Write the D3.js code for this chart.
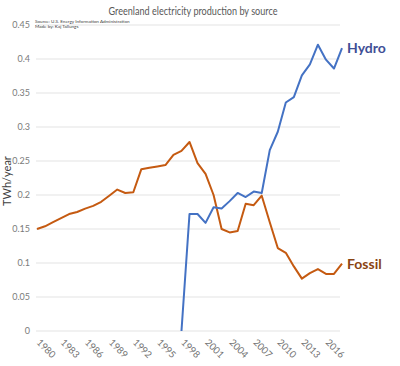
<!DOCTYPE html>
<html><head><meta charset="utf-8">
<script src="https://cdn.jsdelivr.net/npm/d3@7"></script>
<style>body{margin:0;background:#fff}svg{display:block}</style>
</head><body>
<svg id="c" width="400" height="366"></svg>
<script>
const years = d3.range(1980, 2019);
const fossil = [0.150,0.154,0.160,0.166,0.172,0.175,0.180,0.184,0.190,0.199,0.208,0.203,0.204,0.238,0.240,0.242,0.244,0.259,0.265,0.278,0.247,0.231,0.200,0.150,0.145,0.147,0.187,0.185,0.199,0.160,0.122,0.115,0.095,0.077,0.085,0.091,0.084,0.084,0.099];
const hydro = [null,null,null,null,null,null,null,null,null,null,null,null,null,null,null,null,null,null,0,0.172,0.172,0.159,0.182,0.180,0.191,0.203,0.197,0.205,0.203,0.266,0.293,0.336,0.344,0.376,0.392,0.421,0.399,0.386,0.416];
const yTicks = [0,0.05,0.1,0.15,0.2,0.25,0.3,0.35,0.4,0.45];
const xTickYears = d3.range(1980, 2019, 3);
const seriesNames = ["Hydro","Fossil"];
const titleText = "Greenland electricity production by source";
const sourceLines = ["Source: U.S. Energy Information Administration","Made by: Kaj Tallungs"];
const yTitle = "TWh/year";

const svg = d3.select("#c");
const x = d3.scaleLinear().domain([1980, 2018]).range([37, 342]);
const y = d3.scaleLinear().domain([0, 0.45]).range([331, 25]);
const font = "Lato, 'Open Sans', sans-serif";

// gridlines
svg.append("g").selectAll("line").data(yTicks).join("line")
  .attr("x1", 36).attr("x2", 340)
  .attr("y1", d => y(d)).attr("y2", d => y(d))
  .attr("stroke", "#e3e3e3").attr("stroke-width", 1);

// y axis labels
const yAxis = d3.axisLeft(y).tickValues(yTicks).tickSize(0).tickPadding(0)
  .tickFormat(d => d3.format("")(+d.toFixed(2)));
const ga = svg.append("g").attr("transform", "translate(30,0)").call(yAxis);
ga.select(".domain").remove();
ga.selectAll("text").attr("font-family", font).attr("font-size", 9).attr("fill", "#7a7a7a");

// x axis labels
const gx = svg.append("g");
gx.selectAll("text").data(xTickYears).join("text")
  .attr("transform", d => `translate(${x(d) - 1},${343}) rotate(45)`)
  .attr("font-family", font).attr("font-size", 9.5).attr("fill", "#707070")
  .attr("text-anchor", "start")
  .text(d => d);

// lines
const line = d3.line().defined(d => d[1] !== null).x(d => x(d[0])).y(d => y(d[1]));
svg.append("path").datum(years.map((yr, i) => [yr, fossil[i]]))
  .attr("d", line).attr("fill", "none").attr("stroke", "#c55a11").attr("stroke-width", 2).attr("stroke-linejoin", "round");
svg.append("path").datum(years.map((yr, i) => [yr, hydro[i]]))
  .attr("d", line).attr("fill", "none").attr("stroke", "#4472c4").attr("stroke-width", 2).attr("stroke-linejoin", "round");

// series labels
svg.append("text").attr("x", x(2018) + 5).attr("y", y(hydro[hydro.length-1]) + 5)
  .attr("font-family", font).attr("font-size", 14).attr("font-weight", "bold").attr("fill", "#3f4f96").text(seriesNames[0]);
svg.append("text").attr("x", x(2018) + 5).attr("y", y(fossil[fossil.length-1]) + 5)
  .attr("font-family", font).attr("font-size", 14).attr("font-weight", "bold").attr("fill", "#8a4513").text(seriesNames[1]);

// title
svg.append("text").attr("x", 193).attr("y", 14.5).attr("text-anchor", "middle")
  .attr("textLength", 169).attr("lengthAdjust", "spacingAndGlyphs")
  .attr("font-family", font).attr("font-size", 12).attr("fill", "#595959").text(titleText);

// source
svg.selectAll("text.src").data(sourceLines).join("text").attr("class", "src")
  .attr("x", 35).attr("y", (d, i) => 23 + i * 5)
  .attr("font-family", font).attr("font-size", 4.6).attr("fill", "#404040")
  .text(d => d);

// y title
svg.append("text").attr("transform", "translate(11,181) rotate(-90)").attr("text-anchor", "middle")
  .attr("font-family", font).attr("font-size", 11).attr("fill", "#404040").text(yTitle);
</script>
</body></html>
